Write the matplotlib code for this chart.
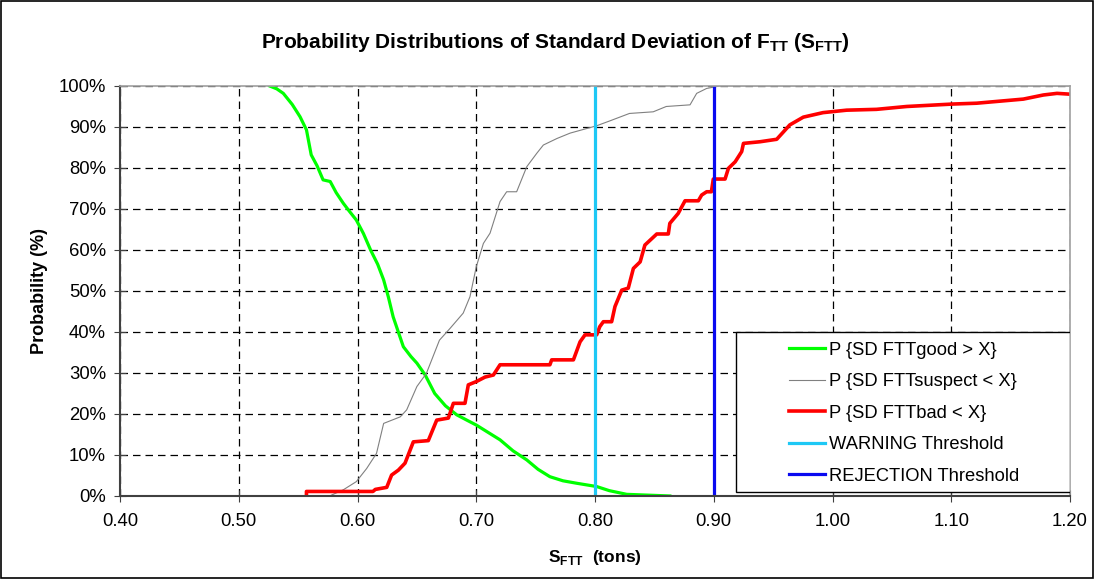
import matplotlib
matplotlib.use("Agg")
import matplotlib.pyplot as plt
from matplotlib.patches import Rectangle
from matplotlib.ticker import MultipleLocator, PercentFormatter, FormatStrFormatter

plt.rcParams["font.family"] = ["Liberation Sans", "DejaVu Sans"]
plt.rcParams["mathtext.fontset"] = "custom"
plt.rcParams["mathtext.rm"] = "Liberation Sans"
plt.rcParams["mathtext.bf"] = "Liberation Sans:bold"

# ---- data (x in tons, y in %) ----
good_x = [0.526, 0.532, 0.5375, 0.545, 0.5516, 0.557, 0.561, 0.566, 0.571, 0.577,
          0.582, 0.588, 0.593, 0.599, 0.605, 0.611, 0.617, 0.622, 0.626, 0.630,
          0.6386, 0.645, 0.650, 0.657, 0.665, 0.674, 0.6835, 0.692, 0.700, 0.710,
          0.720, 0.731, 0.7425, 0.752, 0.762, 0.773, 0.7846, 0.8014, 0.812, 0.8267,
          0.845, 0.863]
good_y = [100, 99.3, 98.2, 95.5, 92.5, 89.3, 83.2, 80.5, 77.1, 76.7,
          74.0, 71.4, 69.5, 67.3, 64.0, 60.0, 56.5, 52.7, 48.5, 43.7,
          36.4, 34.0, 32.4, 29.5, 25.0, 22.0, 19.8, 18.5, 17.3, 15.5,
          13.7, 11.0, 8.8, 6.5, 4.7, 3.7, 3.1, 2.3, 1.3, 0.4,
          0.2, 0.0]

suspect_x = [0.578, 0.588, 0.599, 0.6077, 0.616, 0.622, 0.636, 0.6414, 0.650, 0.658,
             0.669, 0.678, 0.689, 0.6947, 0.700, 0.706, 0.7116, 0.720, 0.7256, 0.734,
             0.7425, 0.751, 0.7565, 0.768, 0.779, 0.8014, 0.8126, 0.829, 0.849, 0.860,
             0.880, 0.8856, 0.894, 0.905, 1.20]
suspect_y = [0.2, 1.5, 3.5, 6.7, 10.4, 17.7, 19.3, 21.0, 26.7, 29.9,
             38.0, 40.9, 44.6, 48.6, 55.9, 61.6, 64.1, 71.8, 74.2, 74.2,
             80.3, 83.6, 85.6, 87.2, 88.5, 90.3, 91.5, 93.3, 93.7, 95.0,
             95.4, 98.2, 99.4, 100, 100]

bad_x = [0.557, 0.557, 0.613, 0.615, 0.6246, 0.6287, 0.6344, 0.640, 0.647, 0.6596,
         0.6667, 0.6765, 0.6807, 0.6905, 0.6933, 0.700, 0.7074, 0.7144, 0.720, 0.762,
         0.7635, 0.7818, 0.7874, 0.7916, 0.8014, 0.804, 0.807, 0.814, 0.8168, 0.8225,
         0.828, 0.8323, 0.838, 0.842, 0.852, 0.8617, 0.863, 0.870, 0.8758, 0.887,
         0.8898, 0.894, 0.898, 0.8996, 0.9095, 0.9123, 0.918, 0.9235, 0.925, 0.939,
         0.953, 0.964, 0.9754, 0.992, 1.0119, 1.037, 1.0625, 1.1017, 1.1214, 1.1607,
         1.1775, 1.189, 1.20]
bad_y = [0.0, 1.1, 1.1, 1.6, 2.1, 5.1, 6.3, 8.0, 13.2, 13.5,
         18.5, 19.0, 22.6, 22.6, 27.1, 27.9, 29.0, 29.5, 32.0, 32.0,
         33.2, 33.2, 37.6, 39.3, 39.3, 41.3, 42.5, 42.5, 46.2, 50.2,
         50.7, 55.5, 57.1, 61.2, 63.9, 63.9, 66.5, 68.9, 72.0, 72.0,
         73.4, 74.2, 74.2, 77.3, 77.3, 79.9, 81.5, 84.0, 86.0, 86.4,
         87.0, 90.5, 92.4, 93.5, 94.1, 94.3, 95.0, 95.6, 95.8, 96.8,
         97.8, 98.2, 98.0]

warning_x = 0.80
rejection_x = 0.90

labels = ["P {SD FTTgood > X}", "P {SD FTTsuspect < X}", "P {SD FTTbad < X}",
          "WARNING Threshold", "REJECTION Threshold"]

fig = plt.figure(figsize=(10.95, 5.79), dpi=100)
ax = fig.add_axes([0.1096, 0.1434, 0.8676, 0.7081])

h1, = ax.plot(good_x, good_y, color="#00FF00", lw=2.3)
h2, = ax.plot(suspect_x, suspect_y, color="#808080", lw=0.8)
h3, = ax.plot(bad_x, bad_y, color="#FF0000", lw=2.6)
h4, = ax.plot([warning_x, warning_x], [0, 100], color="#1EC8F5", lw=2.3)
h5, = ax.plot([rejection_x, rejection_x], [0, 100], color="#0A0AF0", lw=2.3)

ax.set_xlim(0.4, 1.2)
ax.set_ylim(0, 100)
ax.xaxis.set_major_locator(MultipleLocator(0.1))
ax.xaxis.set_major_formatter(FormatStrFormatter("%.2f"))
ax.yaxis.set_major_locator(MultipleLocator(10))
ax.yaxis.set_major_formatter(PercentFormatter(decimals=0))
ax.grid(True, color="black", ls=(0, (6, 4)), lw=0.9)
ax.set_axisbelow(True)
ax.tick_params(direction="inout", length=8, labelsize=13.3, color="#404040", pad=6)
ax.tick_params(axis="x", pad=8)
for s in ("left", "bottom"):
    ax.spines[s].set_color("#404040")
    ax.spines[s].set_linewidth(1.5)
for s in ("top", "right"):
    ax.spines[s].set_color("#A0A0A0")
    ax.spines[s].set_linewidth(1.2)

ax.set_ylabel("Probability (%)", fontsize=13, fontweight="bold", labelpad=8)
ax.set_xlabel(r"S$_{\mathbf{FTT}}$  (tons)", fontsize=12.5, fontweight="bold", labelpad=13)
fig.text(0.507, 0.927,
         r"Probability Distributions of Standard Deviation of F$_{\mathbf{TT}}$ (S$_{\mathbf{FTT}}$)",
         ha="center", va="center", fontsize=15, fontweight="bold")

# legend box like the spreadsheet one
ax.add_patch(Rectangle((0.648, 0.01), 0.352, 0.39, transform=ax.transAxes,
                       facecolor="white", edgecolor="black", lw=1.0, zorder=4))
leg = ax.legend([h1, h2, h3, h4, h5], labels, loc="upper left",
                bbox_to_anchor=(0.698, 0.39), frameon=False, fontsize=13.2,
                handlelength=2.0, handletextpad=0.2, labelspacing=0.79,
                borderaxespad=0, borderpad=0.3)
leg.set_zorder(5)

fig.add_artist(Rectangle((0.001, 0.002), 0.997, 0.996, transform=fig.transFigure,
                         fill=False, edgecolor="black", lw=1.2))

fig.savefig("out.png", dpi=100)
